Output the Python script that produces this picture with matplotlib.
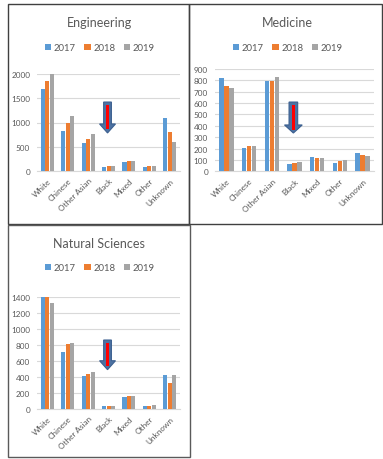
import matplotlib.pyplot as plt
import matplotlib.patches as patches
from matplotlib.transforms import blended_transform_factory
import numpy as np

plt.rcParams['font.family'] = ['Lato', 'DejaVu Sans']

groups = ["White", "Chinese", "Other Asian", "Black", "Mixed", "Other", "Unknown"]
years = ["2017", "2018", "2019"]
colors = ["#5B9BD5", "#ED7D31", "#A5A5A5"]

eng_2017 = [1690, 825, 585, 76, 186, 76, 1085]
eng_2018 = [1860, 997, 667, 110, 206, 96, 797]
eng_2019 = [2000, 1140, 763, 110, 206, 96, 598]

med_2017 = [818, 205, 797, 62, 126, 76, 164]
med_2018 = [750, 220, 797, 76, 117, 91, 144]
med_2019 = [733, 220, 833, 82, 117, 97, 138]

nat_2017 = [1408, 712, 412, 33, 150, 42, 421]
nat_2018 = [1417, 808, 442, 33, 162, 42, 325]
nat_2019 = [1321, 829, 462, 33, 162, 54, 421]

W, H = 383, 460
fig = plt.figure(figsize=(W / 100, H / 100), dpi=100)


def px_box(x0, y0, x1, y1):
    # pixel box (from top-left) -> figure fraction rect
    return [x0 / W, 1 - y1 / H, (x1 - x0) / W, (y1 - y0) / H]


def panel(rect, title, data, ymax, ystep, title_xy, legend_xy, arrow_y):
    ax = fig.add_axes(rect)
    x = np.arange(len(groups))
    bw = 0.2
    for i, (vals, c, yr) in enumerate(zip(data, colors, years)):
        ax.bar(x + (i - 1) * 0.22, vals, bw, color=c, label=yr, zorder=3)
    ax.set_xlim(-0.5, len(groups) - 0.5)
    ax.set_ylim(0, ymax)
    ax.set_yticks(np.arange(0, ymax + 1, ystep))
    ax.set_xticks(x)
    ax.set_xticklabels(groups, rotation=45, ha='right', rotation_mode='anchor')
    ax.tick_params(axis='both', length=0, labelsize=5.9, colors='#595959')
    ax.tick_params(axis='y', pad=5)
    ax.tick_params(axis='x', pad=4)
    ax.grid(axis='y', color='#D9D9D9', lw=0.8, zorder=0)
    for s in ['top', 'right', 'left']:
        ax.spines[s].set_visible(False)
    ax.spines['bottom'].set_color('#D9D9D9')
    ax.spines['bottom'].set_linewidth(0.8)

    fig.text(title_xy[0] / W, 1 - title_xy[1] / H, title, ha='center', va='center',
             fontsize=9, color='#595959')
    ax.legend(loc='center', bbox_to_anchor=(legend_xy[0] / W, 1 - legend_xy[1] / H),
              bbox_transform=fig.transFigure, ncol=3, frameon=False, fontsize=6.8,
              handlelength=0.65, handleheight=0.65, handletextpad=0.3, columnspacing=0.9,
              labelcolor='#595959')

    # down arrow over the Black group
    top, neck, tip = arrow_y
    tr = blended_transform_factory(ax.transData, ax.transAxes)
    cx = 2.95
    sw, hw = 0.19, 0.39
    pts = [(cx - sw, top), (cx + sw, top), (cx + sw, neck), (cx + hw, neck),
           (cx, tip), (cx - hw, neck), (cx - sw, neck)]
    ax.add_patch(patches.Polygon(pts, closed=True, transform=tr, facecolor='#4D72A2',
                                 edgecolor='#3C6090', lw=0.8, zorder=5, clip_on=False))
    rw = 0.07
    ax.add_patch(patches.Rectangle((cx - rw, neck - 0.05), 2 * rw, top - neck + 0.02,
                                   transform=tr, facecolor='#FF0000', edgecolor='none',
                                   zorder=6, clip_on=False))
    return ax


panel(px_box(37.1, 75, 180, 172), "Engineering", [eng_2017, eng_2018, eng_2019],
      2000, 500, (99, 23), (100, 49), (0.711, 0.485, 0.392))
panel(px_box(215, 70, 374, 172.3), "Medicine", [med_2017, med_2018, med_2019],
      900, 100, (287, 23), (288, 49), (0.677, 0.453, 0.374))
panel(px_box(37.1, 298, 180, 410), "Natural Sciences", [nat_2017, nat_2018, nat_2019],
      1400, 200, (99, 244), (100, 269), (0.616, 0.431, 0.351))

# panel frames
for (x0, y0, x1, y1), ec in [((8, 5, 189, 225), '#404040'),
                             ((189, 5, 382, 225), '#404040'),
                             ((8, 226, 190, 458), '#5A5A5A')]:
    r = px_box(x0, y0, x1, y1)
    fig.add_artist(patches.Rectangle((r[0], r[1]), r[2], r[3], transform=fig.transFigure,
                                     fill=False, edgecolor=ec, lw=1.0))

fig.savefig("out.png", dpi=100)
